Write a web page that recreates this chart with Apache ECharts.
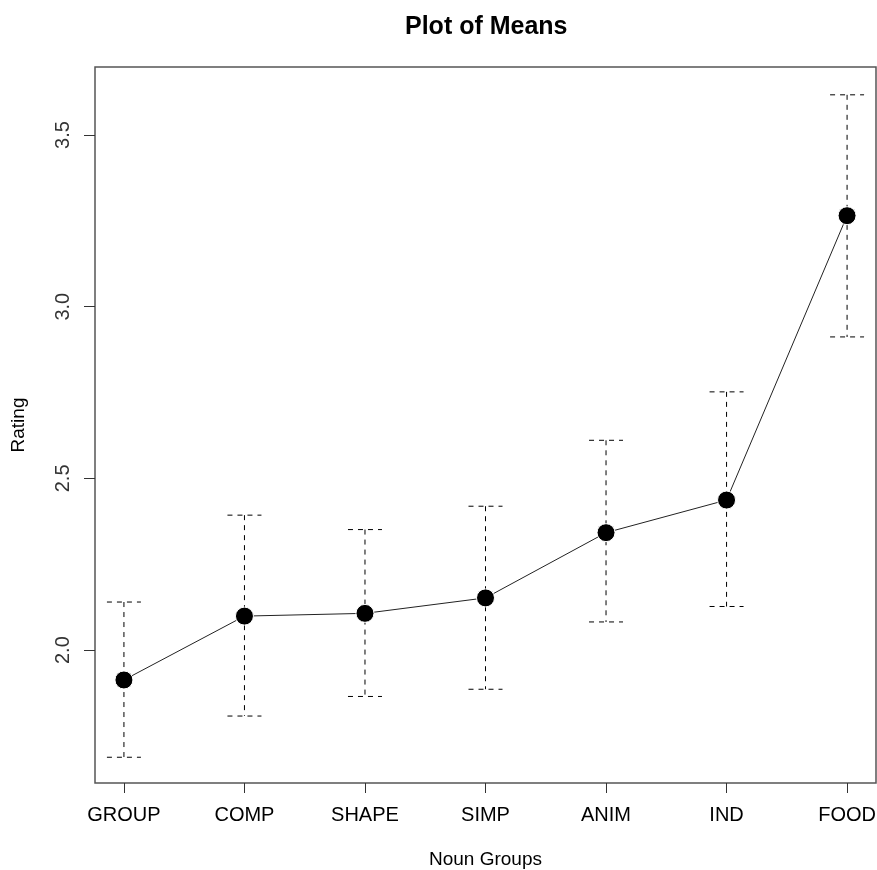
<!DOCTYPE html>
<html>
<head>
<meta charset="utf-8">
<title>Plot of Means</title>
<script src="https://cdn.jsdelivr.net/npm/echarts@6/dist/echarts.min.js"></script>
<style>
  html, body { margin: 0; padding: 0; background: #fff; }
  #chart { width: 877px; height: 870px; }
</style>
</head>
<body>
<div id="chart"></div>
<script>
// noun groups on the x axis
const categories = ['GROUP', 'COMP', 'SHAPE', 'SIMP', 'ANIM', 'IND', 'FOOD'];
// mean rating per group
const means = [1.913, 2.099, 2.107, 2.152, 2.342, 2.437, 3.265];
// error bar limits
const upper = [2.140, 2.393, 2.351, 2.419, 2.611, 2.752, 3.617];
const lower = [1.688, 1.808, 1.865, 1.886, 2.082, 2.127, 2.912];
// y tick labels
const yTicks = [2.0, 2.5, 3.0, 3.5];

const chart = echarts.init(document.getElementById('chart'));

const font = 'Liberation Sans, Arial, sans-serif';
const xIdx = categories.map((c, i) => i);

const option = {
  animation: false,
  title: {
    text: 'Plot of Means',
    left: 400,
    top: 10,
    textStyle: { fontFamily: font, fontSize: 25, fontWeight: 'bold', color: '#000' }
  },
  grid: {
    left: 95,
    top: 67,
    right: 1,
    bottom: 87,
    outerBoundsMode: 'none',
    containLabel: false,
    show: true,
    borderColor: '#555',
    borderWidth: 1.5,
    backgroundColor: 'transparent'
  },
  xAxis: {
    type: 'value',
    min: -0.24,
    max: 6.24,
    name: 'Noun Groups',
    nameLocation: 'middle',
    nameGap: 67,
    nameTextStyle: { fontFamily: font, fontSize: 19, color: '#000' },
    axisLine: { show: false, onZero: false },
    axisTick: { show: true, customValues: xIdx, length: 10, lineStyle: { color: '#333' } },
    axisLabel: {
      customValues: xIdx,
      margin: 22,
      fontFamily: font,
      fontSize: 20,
      color: '#000',
      formatter: v => categories[Math.round(v)]
    },
    splitLine: { show: false }
  },
  yAxis: {
    type: 'value',
    min: 1.613,
    max: 3.698,
    name: 'Rating',
    nameLocation: 'middle',
    nameGap: 67,
    nameRotate: 90,
    nameTextStyle: { fontFamily: font, fontSize: 19, color: '#000' },
    axisLine: { show: false, onZero: false },
    axisTick: { show: true, customValues: yTicks, length: 11, lineStyle: { color: '#333' } },
    axisLabel: {
      customValues: yTicks,
      rotate: 90,
      margin: 22,
      fontFamily: font,
      fontSize: 20,
      color: '#333',
      formatter: v => v.toFixed(1)
    },
    splitLine: { show: false }
  },
  series: [
    {
      type: 'custom',
      z: 1,
      data: xIdx.map(i => [i, lower[i], upper[i]]),
      renderItem: function (params, api) {
        const x = api.value(0);
        const top = api.coord([x, api.value(2)]);
        const bot = api.coord([x, api.value(1)]);
        const half = 17;
        const style = { stroke: '#000', lineWidth: 1, lineDash: [5, 5], fill: null };
        return {
          type: 'group',
          children: [
            { type: 'line', shape: { x1: top[0], y1: top[1], x2: bot[0], y2: bot[1] }, style: style },
            { type: 'line', shape: { x1: top[0] - half, y1: top[1], x2: top[0] + half, y2: top[1] }, style: style },
            { type: 'line', shape: { x1: bot[0] - half, y1: bot[1], x2: bot[0] + half, y2: bot[1] }, style: style }
          ]
        };
      }
    },
    {
      type: 'line',
      z: 2,
      data: xIdx.map(i => [i, means[i]]),
      symbol: 'circle',
      symbolSize: 18,
      itemStyle: { color: '#000', borderColor: '#fff', borderWidth: 1 },
      lineStyle: { color: '#222', width: 1 }
    }
  ]
};

chart.setOption(option);
</script>
</body>
</html>
